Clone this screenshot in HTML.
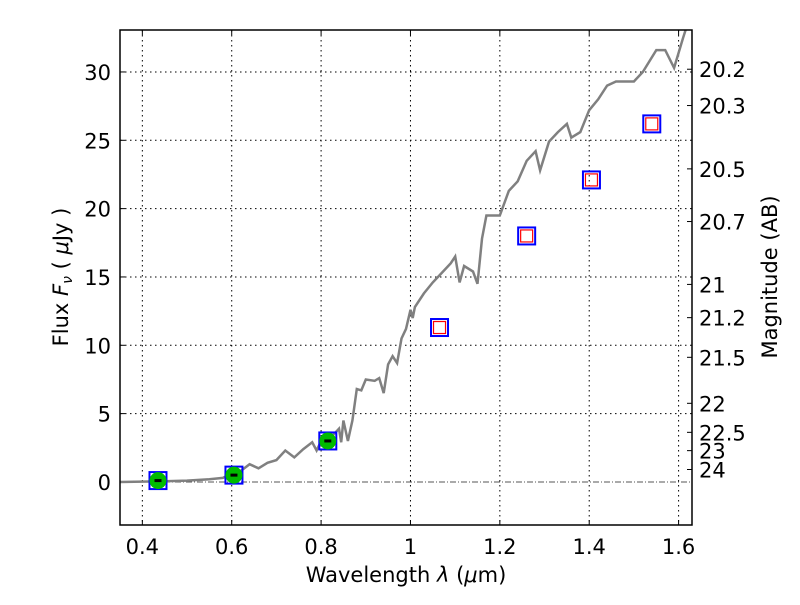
<!DOCTYPE html>
<html><head><meta charset="utf-8"><style>body{margin:0;background:#fff}svg text{font-family:"DejaVu Sans","Liberation Sans",sans-serif;fill:#000}</style></head>
<body>
<svg id="c" width="800" height="600" xmlns="http://www.w3.org/2000/svg"></svg>
<script>
const specX=[0.35,0.45,0.5,0.55,0.58,0.6,0.62,0.64,0.66,0.68,0.7,0.72,0.74,0.76,0.78,0.79,0.8,0.82,0.84,0.845,0.85,0.86,0.87,0.88,0.89,0.9,0.92,0.93,0.94,0.95,0.96,0.97,0.98,0.99,1.0,1.005,1.01,1.03,1.05,1.07,1.09,1.1,1.11,1.12,1.14,1.15,1.16,1.17,1.2,1.22,1.24,1.26,1.28,1.29,1.31,1.33,1.35,1.36,1.38,1.4,1.42,1.44,1.46,1.5,1.52,1.55,1.57,1.59,1.61,1.62];
const specY=[0,0.05,0.1,0.2,0.3,0.6,0.8,1.3,1.0,1.4,1.6,2.3,1.8,2.4,2.9,2.3,3.0,3.2,3.9,2.9,4.5,3.0,4.5,6.8,6.7,7.5,7.4,7.6,6.5,8.6,9.2,8.7,10.5,11.2,12.6,12.0,12.8,13.8,14.6,15.3,16.0,16.5,14.6,15.8,15.4,14.5,17.8,19.5,19.5,21.3,22.0,23.5,24.2,22.8,24.9,25.6,26.2,25.2,25.6,27.2,28.0,29.0,29.3,29.3,30.0,31.6,31.6,30.3,32.5,33.5];
const obsX=[0.435,0.605,0.815];
const obsY=[0.1,0.5,3.0];
const modX=[0.435,0.605,0.815,1.065,1.26,1.405,1.54];
const modY=[0.1,0.5,3.0,11.3,18.0,22.1,26.2];
const xTicks=[0.4,0.6,0.8,1.0,1.2,1.4,1.6];
const xTickLabels=["0.4","0.6","0.8","1","1.2","1.4","1.6"];
const yTicks=[0,5,10,15,20,25,30];
const magTicks=[20.2,20.3,20.5,20.7,21,21.2,21.5,22,22.5,23,24];
const magLabels=["20.2","20.3","20.5","20.7","21","21.2","21.5","22","22.5","23","24"];

const L=120,R=692,T=30,B=525,x0=0.35,x1=1.63,y0=-3.15,y1=33.07;
const sx=v=>L+(v-x0)/(x1-x0)*(R-L);
const sy=v=>B-(v-y0)/(y1-y0)*(B-T);
const svg=document.getElementById('c');
const NS="http://www.w3.org/2000/svg";
const FS=21;
function mk(tag,attrs,parent){const e=document.createElementNS(NS,tag);for(const k in attrs)e.setAttribute(k,attrs[k]);(parent||svg).appendChild(e);return e;}
const clip=mk('clipPath',{id:'pc'});mk('rect',{x:L,y:T,width:R-L,height:B-T},clip);
xTicks.forEach((t,i)=>{
 const g=mk('line',{x1:sx(t),x2:sx(t),y1:T,y2:B,stroke:'#000','stroke-width':1,'stroke-dasharray':'1.5,3.5'});
 
 
 mk('line',{x1:sx(t),x2:sx(t),y1:B,y2:B-5,stroke:'#000'});
 mk('line',{x1:sx(t),x2:sx(t),y1:T,y2:T+5,stroke:'#000'});
 const tx=mk('text',{x:sx(t),y:B+29,'text-anchor':'middle','font-size':FS});tx.textContent=xTickLabels[i];
 
 
});
yTicks.forEach(t=>{
 if(t!==0){const g=mk('line',{x1:L,x2:R,y1:sy(t),y2:sy(t),stroke:'#000','stroke-width':1,'stroke-dasharray':'1.5,3.5'});
 
 }
 mk('line',{x1:L,x2:L+5,y1:sy(t),y2:sy(t),stroke:'#000'});
 const tx=mk('text',{x:L-9,y:sy(t)+8,'text-anchor':'end','font-size':FS});tx.textContent=String(t);
 
 
});
const zl=mk('line',{x1:L,x2:R,y1:sy(0),y2:sy(0),stroke:'#555','stroke-width':1,'stroke-dasharray':'6,2,1,2'});


magTicks.forEach((m,i)=>{
 const f=Math.pow(10,(23.9-m)/2.5);const y=sy(f);
 mk('line',{x1:R,x2:R-5,y1:y,y2:y,stroke:'#000'});
 const tx=mk('text',{x:R+7,y:y+8,'font-size':FS});tx.textContent=magLabels[i];
 
 
});
const d=specX.map((x,i)=>(i?'L':'M')+sx(x).toFixed(1)+','+sy(specY[i]).toFixed(1)).join('');
const sp=mk('path',{d:d,fill:'none',stroke:'#808080','stroke-width':2.5,'clip-path':'url(#pc)'});


modX.forEach((x,i)=>{
 const cx=sx(x),cy=sy(modY[i]);
 const b=mk('rect',{x:cx-8.5,y:cy-8.5,width:17,height:17,fill:'none',stroke:'#0000ff','stroke-width':2});
 
 
 if(i>=obsX.length){const r=mk('rect',{x:cx-6,y:cy-6,width:12,height:12,fill:'none',stroke:'#ff0000','stroke-width':1.2});
 
 }
});
obsX.forEach((x,i)=>{
 const cx=sx(x),cy=sy(obsY[i]);
 const c=mk('circle',{cx:cx,cy:cy,r:8.5,fill:'#00bb00'});
 
 
 mk('line',{x1:cx-3.5,x2:cx+3.5,y1:cy,y2:cy,stroke:'#000','stroke-width':3});
});
const fr=mk('rect',{x:L,y:T,width:R-L,height:B-T,fill:'none',stroke:'#000','stroke-width':1.5});


const xl=mk('text',{x:406,y:582,'text-anchor':'middle','font-size':FS});xl.innerHTML='Wavelength  <tspan font-style="italic">λ</tspan> (<tspan font-style="italic">μ</tspan>m)';


const yl=mk('text',{transform:'translate(68,277) rotate(-90)','text-anchor':'middle','font-size':FS});yl.innerHTML='Flux  <tspan font-style="italic">F</tspan><tspan font-style="italic" font-size="14" dy="4">ν</tspan><tspan dy="-4">  ( </tspan><tspan font-style="italic">μ</tspan>Jy )';


const ml=mk('text',{transform:'translate(777,277) rotate(-90)','text-anchor':'middle','font-size':FS});ml.textContent='Magnitude (AB)';


</script>
</body></html>
